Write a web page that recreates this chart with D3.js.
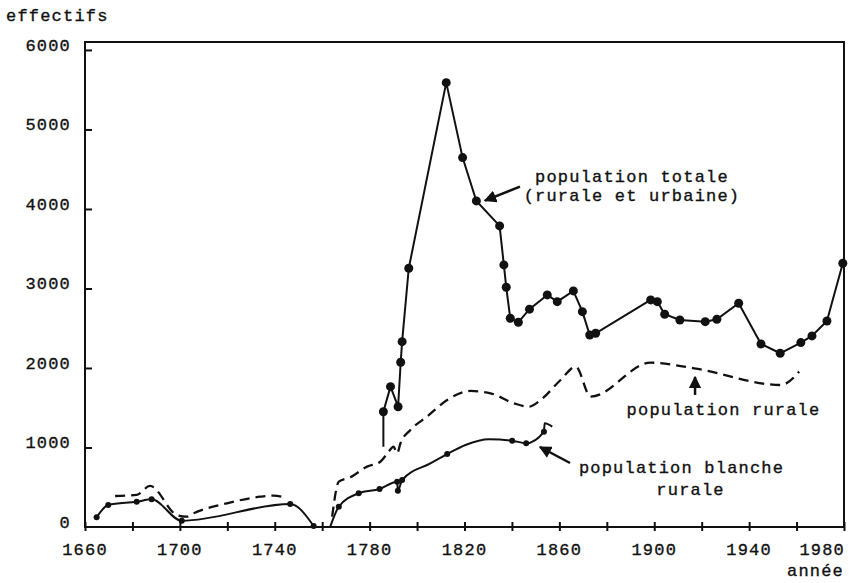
<!DOCTYPE html>
<html>
<head>
<meta charset="utf-8">
<script src="https://cdn.jsdelivr.net/npm/d3@7"></script>
<style>
  body { margin: 0; background: #fff; }
  svg text { font-family: "Liberation Mono", "DejaVu Sans Mono", monospace; fill: #111; stroke: #111; stroke-width: 0.35px; font-size: 17px; letter-spacing: 1.2px; }
</style>
</head>
<body>
<div id="chart"></div>
<script>
// population totale (rurale et urbaine) - dots on every point except the first
const totalYears = [1785.8, 1785.8, 1788.8, 1792, 1793.1, 1793.7, 1796.5, 1812.3, 1819.2, 1825, 1834.8,
    1836.6, 1837.6, 1839.3, 1842.7, 1847.4, 1854.9, 1859.1, 1865.9, 1869.7, 1872.8, 1875.3,
    1898.5, 1901.3, 1904.4, 1910.8, 1921.5, 1926.4, 1935.6, 1945, 1953.1, 1961.8, 1966.5, 1972.8, 1979.5]
const totalValues = [1010, 1450, 1765, 1513, 2072, 2331, 3254, 5589, 4646, 4101, 3787,
    3296, 3015, 2625, 2575, 2740, 2919, 2834, 2969, 2708, 2415, 2437,
    2856, 2834, 2676, 2604, 2583, 2613, 2814, 2302, 2185, 2319, 2403, 2591, 3317]

// population rurale (dashed), null = gap in the record
const ruralYears = [1672.7, 1681.8, 1687.4, 1698.7, 1702.9, 1705.7, 1719.8, 1733.9, 1739.5, 1745.1,
    1755,
    1764.2, 1767, 1771.9, 1778.9, 1784.5, 1788, 1790.1, 1791.6, 1793, 1797.2, 1804.2, 1812.7,
    1822.5, 1831, 1840.8, 1847.1, 1852.1, 1860.5, 1866.9, 1873.2, 1898.5, 1916.8, 1953.4, 1961.1]
const ruralValues = [390, 403, 516, 151, 130, 172, 298, 381, 394, 362,
    null,
    130, 570, 625, 759, 821, 947, 1010, 927, 1053, 1220, 1388, 1598,
    1711, 1682, 1556, 1513, 1598, 1849, 2017, 1639, 2067, 1996, 1786, 1954]

// population blanche rurale, observed = point marked with a dot
const whiteYears = [1664.9, 1669.8, 1681.8, 1688.1, 1700.8, 1746.5, 1756.4,
    1760,
    1763.4, 1767, 1775.4, 1784.2, 1791.6, 1791.9, 1793.7, 1805.6, 1812.7, 1820.4, 1830.4,
    1840.1, 1846, 1853.5, 1853.8, 1857]
const whiteValues = [122, 277, 318, 348, 79, 289, 13,
    null,
    4, 255, 424, 478, 570, 457, 591, 801, 918, 1032, 1103,
    1086, 1053, 1199, 1305, 1262]
const whiteObserved = [1, 1, 1, 1, 1, 1, 1,
    0,
    0, 1, 1, 1, 1, 1, 1, 0, 1, 0, 0,
    1, 1, 1, 0, 0]

const yTicks = [0, 1000, 2000, 3000, 4000, 5000, 6000]
const xLabelYears = [1660, 1700, 1740, 1780, 1820, 1860, 1900, 1940, 1980]
const xTickYears = d3.range(1660, 1981, 20)

// annotations, in data units
const arrows = [
    { from: [1843.4, 4281], to: [1828.6, 4105] },
    { from: [1917.2, 1661], to: [1917.2, 1887] },
    { from: [1864.5, 805], to: [1851.8, 1006] }
]
const labels = [
    { year: 1890.6, value: 4340, text: 'population totale' },
    { year: 1890.6, value: 4095, text: '(rurale et urbaine)' },
    { year: 1929.2, value: 1409, text: 'population rurale' },
    { year: 1911.5, value: 679, text: 'population blanche' },
    { year: 1915.3, value: 403, text: 'rurale' }
]

const width = 854
const height = 583
const margin = { left: 85, right: 10, top: 42, bottom: 56 }

const x = d3.scaleLinear()
    .domain([1660, 1980])
    .range([margin.left, width - margin.right])

const y = d3.scaleLinear()
    .domain([0, 6100])
    .range([height - margin.bottom, margin.top])

const svg = d3.select('#chart')
    .append('svg')
    .attr('width', width)
    .attr('height', height)

svg.append('defs')
    .append('marker')
    .attr('id', 'head')
    .attr('viewBox', '0 0 10 10')
    .attr('refX', 9)
    .attr('refY', 5)
    .attr('markerWidth', 5)
    .attr('markerHeight', 5)
    .attr('orient', 'auto')
    .append('path')
    .attr('d', 'M0,0 L10,5 L0,10 Z')
    .style('fill', '#111')

// frame
svg.append('rect')
    .attr('x', x(1660))
    .attr('y', margin.top)
    .attr('width', x(1980) - x(1660))
    .attr('height', y(0) - margin.top)
    .style('fill', 'none')
    .style('stroke', '#111')
    .style('stroke-width', 2)

// x axis ticks crossing the baseline
const xAxis = svg.append('g')
    .attr('transform', `translate(0, ${y(0)})`)
    .call(d3.axisBottom(x).tickValues(xTickYears).tickSize(4).tickFormat(''))
xAxis.select('.domain').remove()
xAxis.selectAll('.tick line')
    .attr('y1', -5)
    .attr('y2', 4)
    .style('stroke', '#111')
    .style('stroke-width', 2)

svg.selectAll('.xlabel')
    .data(xLabelYears)
    .join('text')
    .attr('x', d => d === 1980 ? x(d) + 1 : x(d))
    .attr('y', y(0) + 28)
    .style('text-anchor', d => d === 1980 ? 'end' : 'middle')
    .text(d => d)

// y axis ticks pointing inward
const yAxis = svg.append('g')
    .attr('transform', `translate(${x(1660)}, 0)`)
    .call(d3.axisRight(y).tickValues(yTicks.slice(1)).tickSize(7).tickFormat(''))
yAxis.select('.domain').remove()
yAxis.selectAll('.tick line')
    .style('stroke', '#111')
    .style('stroke-width', 2)

svg.selectAll('.ylabel')
    .data(yTicks)
    .join('text')
    .attr('x', 71)
    .attr('y', d => y(d) + 1)
    .style('text-anchor', 'end')
    .text(d => d)

svg.append('text')
    .attr('x', 6)
    .attr('y', 21)
    .text('effectifs')

svg.append('text')
    .attr('x', x(1980))
    .attr('y', 576)
    .style('text-anchor', 'end')
    .text('année')

// series
const total = totalYears.map((d, i) => ({ year: d, value: totalValues[i], dot: i > 0 }))
const rural = ruralYears.map((d, i) => ({ year: d, value: ruralValues[i] }))
const white = whiteYears.map((d, i) => ({ year: d, value: whiteValues[i], dot: whiteObserved[i] === 1 }))

const straight = d3.line()
    .defined(d => d.value != null)
    .x(d => x(d.year))
    .y(d => y(d.value))

const smooth = d3.line()
    .defined(d => d.value != null)
    .curve(d3.curveMonotoneX)
    .x(d => x(d.year))
    .y(d => y(d.value))

svg.append('path')
    .datum(rural)
    .attr('d', smooth)
    .style('fill', 'none')
    .style('stroke', '#111')
    .style('stroke-width', 2.3)
    .style('stroke-dasharray', '10 6')

svg.append('path')
    .datum(white)
    .attr('d', smooth)
    .style('fill', 'none')
    .style('stroke', '#111')
    .style('stroke-width', 2)

svg.selectAll('.whiteDot')
    .data(white.filter(d => d.dot))
    .join('circle')
    .attr('cx', d => x(d.year))
    .attr('cy', d => y(d.value))
    .attr('r', 3)
    .style('fill', '#111')

svg.append('path')
    .datum(total)
    .attr('d', straight)
    .style('fill', 'none')
    .style('stroke', '#111')
    .style('stroke-width', 2)

svg.selectAll('.totalDot')
    .data(total.filter(d => d.dot))
    .join('circle')
    .attr('cx', d => x(d.year))
    .attr('cy', d => y(d.value))
    .attr('r', 4.5)
    .style('fill', '#111')

// annotations
svg.selectAll('.arrow')
    .data(arrows)
    .join('line')
    .attr('x1', d => x(d.from[0]))
    .attr('y1', d => y(d.from[1]))
    .attr('x2', d => x(d.to[0]))
    .attr('y2', d => y(d.to[1]))
    .attr('marker-end', 'url(#head)')
    .style('stroke', '#111')
    .style('stroke-width', 2.5)

svg.selectAll('.note')
    .data(labels)
    .join('text')
    .attr('x', d => x(d.year))
    .attr('y', d => y(d.value))
    .style('text-anchor', 'middle')
    .text(d => d.text)
</script>
</body>
</html>
